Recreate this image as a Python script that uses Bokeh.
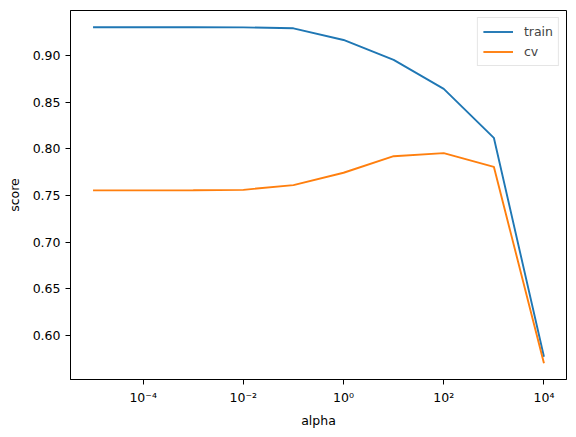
from bokeh.embed import file_html
from bokeh.models import (ColumnDataSource, CustomJSTickFormatter, FixedTicker,
                          Legend, LegendItem, PrintfTickFormatter, Range1d)
from bokeh.plotting import figure
from bokeh.resources import INLINE

alpha = [1e-5, 1e-4, 1e-3, 1e-2, 1e-1, 1e0, 1e1, 1e2, 1e3, 1e4]
train = [0.9304, 0.9304, 0.9304, 0.9303, 0.9293, 0.9168, 0.8954, 0.8643, 0.8118, 0.5770]
cv = [0.7554, 0.7554, 0.7555, 0.7560, 0.7611, 0.7743, 0.7921, 0.7954, 0.7807, 0.5700]
x_ticks = [1e-4, 1e-2, 1e0, 1e2, 1e4]
y_ticks = [0.60, 0.65, 0.70, 0.75, 0.80, 0.85, 0.90]

font = "DejaVu Sans"
fs = "12.5px"

source = ColumnDataSource(data=dict(alpha=alpha, train=train, cv=cv))

p = figure(width=576, height=437, x_axis_type="log",
           x_range=Range1d(10 ** -5.45, 10 ** 4.45),
           y_range=Range1d(0.5525, 0.9484),
           output_backend="svg", toolbar_location=None,
           min_border_left=70, min_border_right=10,
           min_border_top=10, min_border_bottom=58)

r1 = p.line("alpha", "train", source=source, line_color="#1f77b4", line_width=1.9)
r2 = p.line("alpha", "cv", source=source, line_color="#ff7f0e", line_width=1.9)

p.xgrid.visible = False
p.ygrid.visible = False
p.outline_line_color = "black"
p.outline_line_width = 1
p.outline_line_alpha = 1

p.xaxis.ticker = FixedTicker(ticks=x_ticks)
p.xaxis.formatter = CustomJSTickFormatter(code="""
const sup = {'-': '\u207b', '0': '\u2070', '1': '\u00b9', '2': '\u00b2', '3': '\u00b3',
             '4': '\u2074', '5': '\u2075', '6': '\u2076', '7': '\u2077', '8': '\u2078', '9': '\u2079'};
const e = String(Math.round(Math.log10(tick)));
return '10' + e.split('').map(c => sup[c]).join('');
""")
p.yaxis.ticker = FixedTicker(ticks=y_ticks)
p.yaxis.formatter = PrintfTickFormatter(format="%.2f")

p.xaxis.axis_label = "alpha"
p.yaxis.axis_label = "score"

for ax in (p.xaxis, p.yaxis):
    ax.minor_tick_line_color = None
    ax.major_tick_out = 5
    ax.major_tick_in = 0
    ax.major_tick_line_color = "black"
    ax.axis_line_color = "black"
    ax.major_label_text_font = font
    ax.major_label_text_font_size = fs
    ax.major_label_text_color = "black"
    ax.axis_label_text_font = font
    ax.axis_label_text_font_size = fs
    ax.axis_label_text_font_style = "normal"
    ax.axis_label_text_color = "black"
    ax.major_label_standoff = 5
p.xaxis.axis_label_standoff = 5
p.yaxis.axis_label_standoff = 8

legend = Legend(items=[LegendItem(label="train", renderers=[r1]),
                       LegendItem(label="cv", renderers=[r2])],
                location="top_right")
legend.margin = 7
legend.padding = 5
legend.spacing = 3
legend.glyph_width = 30
legend.glyph_height = 17
legend.label_standoff = 11
legend.label_text_font = font
legend.label_text_font_size = fs
legend.border_line_color = "#cccccc"
legend.border_line_width = 1
legend.background_fill_alpha = 0.8
p.add_layout(legend)

open("out.html", "w").write(file_html(p, INLINE))
